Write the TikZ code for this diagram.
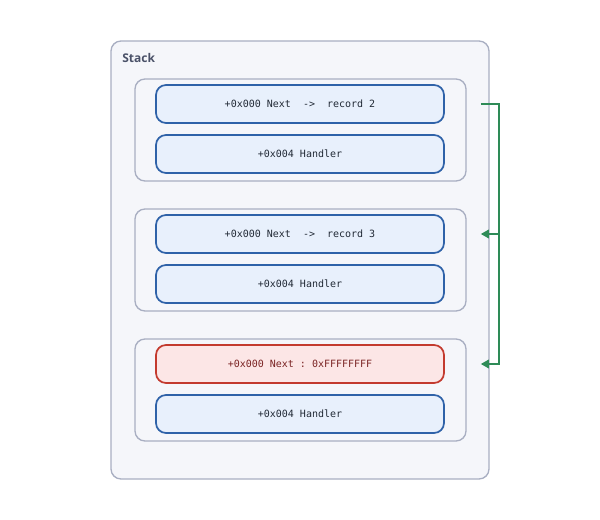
\documentclass[tikz,border=0pt]{standalone}
\usepackage{fontspec}
\setmainfont{Open Sans}
\setmonofont{DejaVu Sans Mono}
\usepackage{tikz}
\usetikzlibrary{arrows.meta,positioning,calc}
\definecolor{stkframe}{HTML}{A9AFC2}
\definecolor{stkfill}{HTML}{F5F6FA}
\definecolor{slotblue}{HTML}{2F62A8}
\definecolor{slotfill}{HTML}{E8F0FC}
\definecolor{slotred}{HTML}{C33A2E}
\definecolor{slotpink}{HTML}{FCE6E6}
\definecolor{linkgreen}{HTML}{2E8B57}
\definecolor{textink}{HTML}{222A36}
\definecolor{redink}{HTML}{7A2323}
\definecolor{titleink}{HTML}{4A5168}
\tikzset{
  stackBox/.style={draw=stkframe, fill=stkfill, line width=1pt, rounded corners=7.5pt, minimum width=283.5pt, minimum height=328.5pt, inner sep=0pt},
  recordBox/.style={draw=stkframe, fill=stkfill, line width=1pt, rounded corners=7.5pt, minimum width=248.25pt, minimum height=76.5pt, inner sep=0pt},
  slotBox/.style={draw=slotblue, fill=slotfill, line width=1.3pt, rounded corners=7.5pt, minimum width=216pt, minimum height=28.5pt, inner sep=0pt, text=textink, font=\ttfamily\fontsize{7.5}{9}\selectfont},
  badSlot/.style={slotBox, draw=slotred, fill=slotpink, text=redink},
  linkArrow/.style={-{Triangle[length=6pt,width=6.5pt]}, line width=1.1pt, draw=linkgreen},
  titleLabel/.style={font=\bfseries\fontsize{9}{11}\selectfont, text=titleink, anchor=west, inner sep=0pt}
}

\begin{document}
\begin{tikzpicture}[x=0.75pt,y=-0.75pt]
  \useasboundingbox[fill=white] (0,0) rectangle (600,520);
  \node[stackBox] (stack) at (300,260) {};
  \node[titleLabel] (stacktitle) at (122,58) {Stack};
  \foreach \r/\y in {1/130,2/260,3/390}
  {
    \node[recordBox] (rec\r) at (300.5,\y) {};
    \node[slotBox] (hdl\r) at (300,\y+24) {+0x004 Handler};
  }
  \node[slotBox] (next1) at (300,104) {+0x000 Next\ \ ->\ \ record 2};
  \node[slotBox] (next2) at (300,234) {+0x000 Next\ \ ->\ \ record 3};
  \node[badSlot] (next3) at (300,364) {+0x000 Next : 0xFFFFFFFF};
  % chain of Next pointers
  \draw[linkArrow] ($(next1.east)+(36,0)$) -| ($(next3.east)+(54,0)$) -- ($(next3.east)+(36,0)$);
  \draw[linkArrow] ($(next1.east)+(54,0)$) |- ($(next2.east)+(36,0)$);
\end{tikzpicture}
\end{document}
